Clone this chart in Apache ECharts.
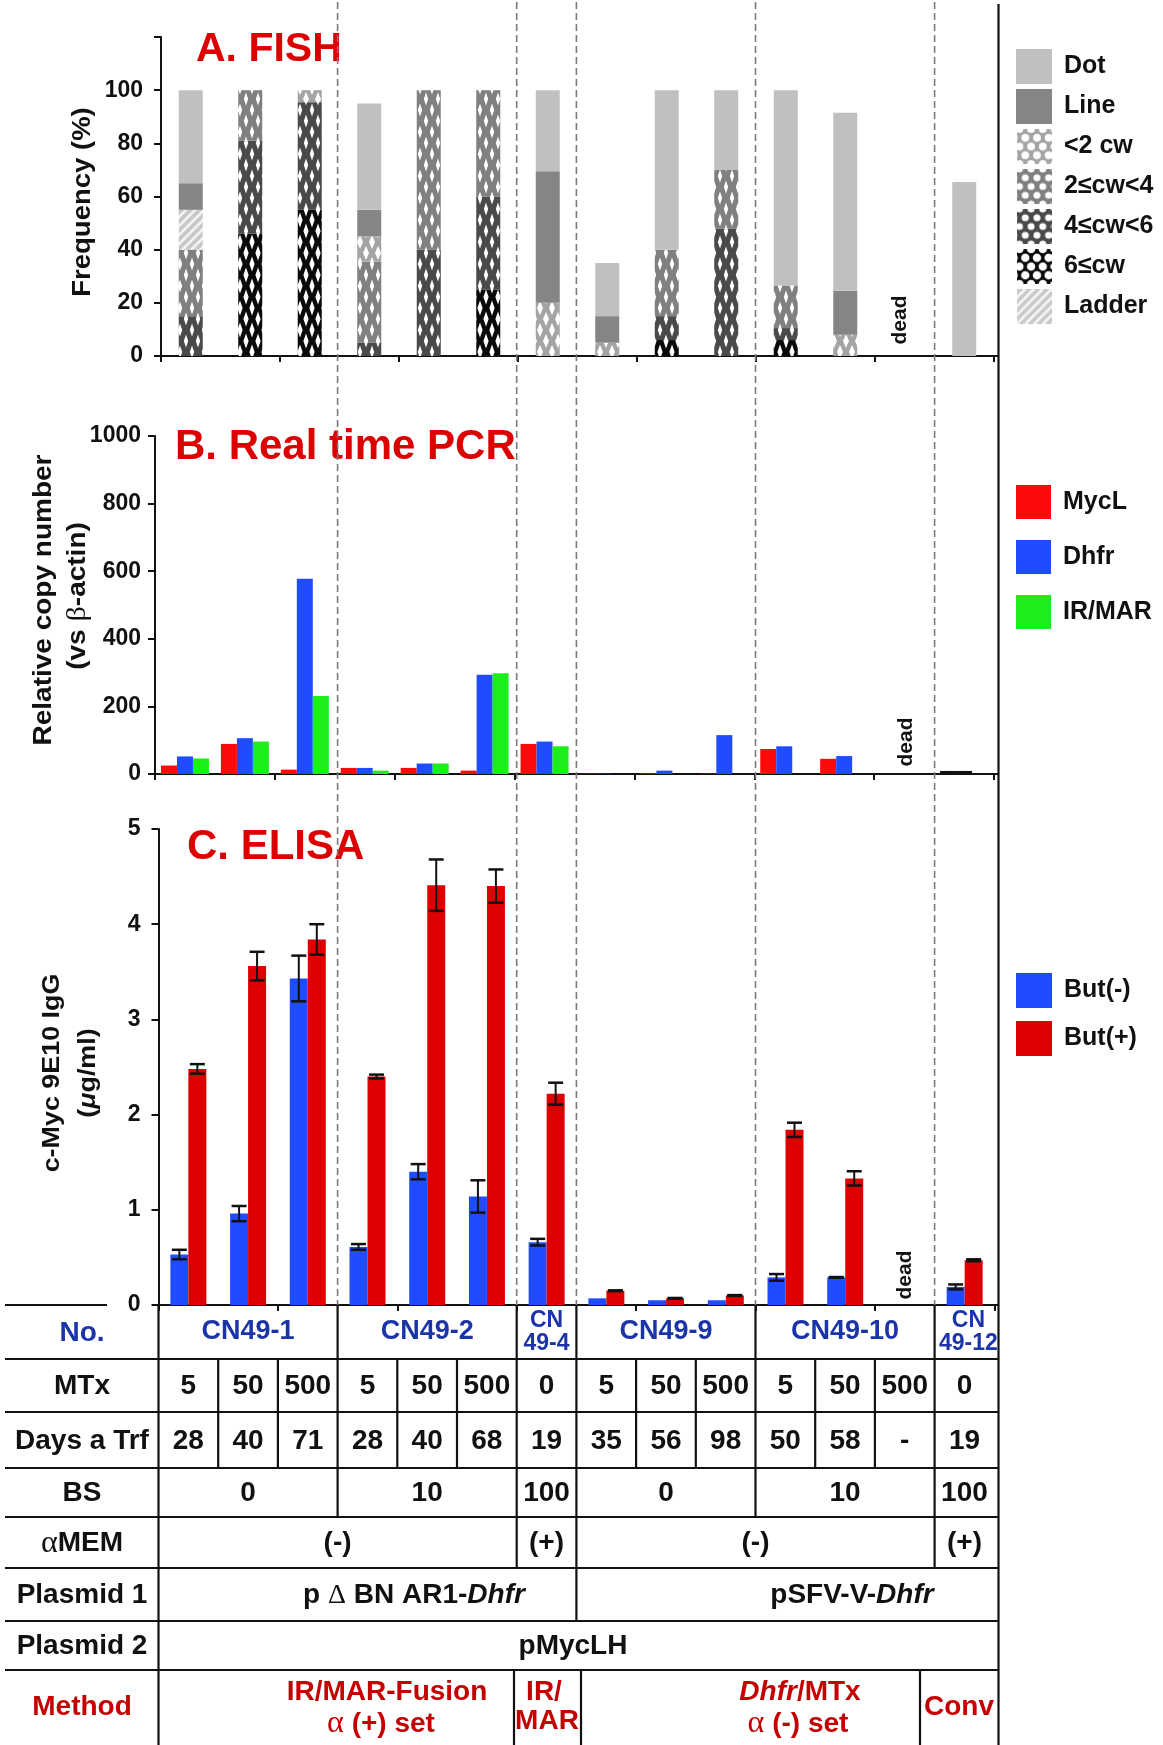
<!DOCTYPE html>
<html>
<head>
<meta charset="utf-8">
<script src="https://cdn.jsdelivr.net/npm/echarts@6/dist/echarts.min.js"></script>
<style>html,body{margin:0;padding:0;background:#fff}#chart{width:1163px;height:1745px}</style>
</head>
<body>
<div id="chart"></div>
<script>
// ---------------- DATA ----------------
const categories = ['CN49-1 5','CN49-1 50','CN49-1 500','CN49-2 5','CN49-2 50','CN49-2 500','CN49-4 0',
  'CN49-9 5','CN49-9 50','CN49-9 500','CN49-10 5','CN49-10 50','CN49-10 500','CN49-12 0'];

// A. FISH (segment heights %, stacked bottom -> top)
const fishCw6    = [0, 46, 55, 0, 0, 25, 0, 0, 6, 0, 6, 0, null, 0];
const fishCw4to6 = [15, 35, 40.5, 5, 40, 35, 0, 0, 9, 48, 4.5, 0, null, 0];
const fishCw2to4 = [25, 19, 0, 30.5, 60, 40, 0, 0, 25, 22, 16, 0, null, 0];
const fishCwLt2  = [0, 0, 4.5, 9.5, 0, 0, 20, 5, 0, 0, 0, 8, null, 0];
const fishLadder = [15, 0, 0, 0, 0, 0, 0, 0, 0, 0, 0, 0, null, 0];
const fishLine   = [10, 0, 0, 10, 0, 0, 49.5, 10, 0, 0, 0, 16.5, null, 0];
const fishDot    = [35, 0, 0, 40, 0, 0, 30.5, 20, 60, 30, 73.5, 67, null, 65.5];

// B. Real time PCR
const pcrMycL  = [25, 89, 13, 18, 18, 10, 89, 1, 2, 1, 74, 45, null, 9];
const pcrDhfr  = [52, 106, 578, 18, 31, 294, 96, 1, 10, 115, 82, 53, null, 9];
const pcrIrMar = [46, 96, 231, 10, 31, 298, 82, 0, 0, 0, 0, 0, null, 0];

// C. ELISA (value, error)
const butMinus    = [0.53, 0.96, 3.43, 0.61, 1.40, 1.14, 0.66, 0.07, 0.05, 0.05, 0.29, 0.29, null, 0.19];
const butMinusErr = [0.05, 0.08, 0.24, 0.03, 0.08, 0.17, 0.035, 0, 0, 0, 0.035, 0.004, null, 0.026];
const butPlus     = [2.48, 3.56, 3.84, 2.40, 4.41, 4.40, 2.22, 0.15, 0.07, 0.10, 1.84, 1.33, null, 0.47];
const butPlusErr  = [0.05, 0.15, 0.16, 0.02, 0.27, 0.175, 0.115, 0.004, 0.004, 0.004, 0.075, 0.075, null, 0.01];

// Tick / table labels
const fishTicks = [0, 20, 40, 60, 80, 100];
const noLabels = ['CN49-1', 'CN49-2', 'CN\n49-4', 'CN49-9', 'CN49-10', 'CN\n49-12'];
const noSpans  = [[0,3],[3,6],[6,7],[7,10],[10,13],[13,14]];
const mtxLabels  = ['5','50','500','5','50','500','0','5','50','500','5','50','500','0'];
const daysLabels = ['28','40','71','28','40','68','19','35','56','98','50','58','-','19'];
const bsLabels   = ['0','10','100','0','10','100'];
const memLabels  = ['(-)','(+)','(-)','(+)'];
const memSpans   = [[0,6],[6,7],[7,13],[13,14]];
const rowLabels  = ['No.','MTx','Days a Trf','BS','{a|\u03b1}MEM','Plasmid 1','Plasmid 2','Method'];
const deadIndex = 12;

// ---------------- STYLE HELPERS ----------------
const FONT = '"Liberation Sans", Arial, Helvetica, sans-serif';
const SERIF = '"Liberation Serif", "DejaVu Serif", serif';

function diamondPattern(base, dw, dh) {
  const c = document.createElement('canvas'); c.width = 12; c.height = 22;
  const g = c.getContext('2d');
  g.fillStyle = base; g.fillRect(0, 0, 12, 22);
  g.fillStyle = '#ffffff';
  const dia = (cx, cy) => { g.beginPath(); g.moveTo(cx, cy - dh); g.lineTo(cx + dw, cy); g.lineTo(cx, cy + dh); g.lineTo(cx - dw, cy); g.closePath(); g.fill(); };
  dia(6, 11); dia(0, 0); dia(12, 0); dia(0, 22); dia(12, 22);
  return { image: c, repeat: 'repeat' };
}
function circleIcon(base, r) {
  const c = document.createElement('canvas'); c.width = 36; c.height = 36;
  const g = c.getContext('2d');
  g.fillStyle = base; g.fillRect(0, 0, 36, 36);
  g.fillStyle = '#ffffff';
  for (let row = 0; row < 5; row++) for (let col = -1; col < 5; col++) {
    const cx = col * 12 + (row % 2 ? 6 : 0) + 3, cy = row * 9;
    g.beginPath(); g.arc(cx, cy, r, 0, Math.PI * 2); g.fill();
  }
  return 'image://' + c.toDataURL();
}
function stripePattern(base) {
  const c = document.createElement('canvas'); c.width = 9; c.height = 9;
  const g = c.getContext('2d');
  g.fillStyle = base; g.fillRect(0, 0, 9, 9);
  g.strokeStyle = '#f4f4f4'; g.lineWidth = 2.6;
  [[-9, 9, 9, -9], [0, 9, 9, 0], [0, 18, 18, 0]].forEach(l => { g.beginPath(); g.moveTo(l[0], l[1]); g.lineTo(l[2], l[3]); g.stroke(); });
  return { image: c, repeat: 'repeat' };
}
function stripeIcon(base) {
  const c = document.createElement('canvas'); c.width = 36; c.height = 36;
  const g = c.getContext('2d');
  g.fillStyle = base; g.fillRect(0, 0, 36, 36);
  g.strokeStyle = '#f4f4f4'; g.lineWidth = 3;
  for (let k = -36; k < 72; k += 9) { g.beginPath(); g.moveTo(k, 36); g.lineTo(k + 36, 0); g.stroke(); }
  return 'image://' + c.toDataURL();
}

const C_DOT = '#c0c0c0', C_LINE = '#858585';
const B_LT2 = '#a4a4a4', B_2TO4 = '#808080', B_4TO6 = '#4a4a4a', B_6 = '#0a0a0a', B_LAD = '#c8c8c8';
const pLt2 = diamondPattern(B_LT2, 3, 7), p2to4 = diamondPattern(B_2TO4, 2.2, 6.5),
      p4to6 = diamondPattern(B_4TO6, 2.2, 6.5), p6 = diamondPattern(B_6, 2.6, 7.5), pLad = stripePattern(B_LAD);

// ---------------- LAYOUT ----------------
const GA = { left: 161, top: 37, width: 833, height: 319 };
const GB = { left: 155, top: 436, width: 839, height: 338 };
const GC = { left: 158.5, top: 829, width: 836, height: 476 };
const T_L = 158.5, T_CW = 59.7, RIGHT = 998.5;
const colX = k => T_L + k * T_CW;
const catX = (grid, i) => grid.left + (i + 0.5) * grid.width / categories.length;

function xAxisFor(gi) {
  return { gridIndex: gi, type: 'category', data: categories,
    axisLine: { lineStyle: { color: '#111', width: 2 } },
    axisTick: { show: true, length: 6, lineStyle: { color: '#111', width: 2 } },
    axisLabel: { show: false }, splitLine: { show: false } };
}
function yAxisFor(gi, max, interval, margin, fmt) {
  return { gridIndex: gi, type: 'value', min: 0, max: max, interval: interval,
    axisLine: { show: true, lineStyle: { color: '#111', width: 2 } },
    axisTick: { show: true, length: 7, lineStyle: { color: '#111', width: 2 } },
    axisLabel: { margin: margin, color: '#111', fontSize: 23, fontWeight: 'bold', fontFamily: FONT,
      formatter: fmt || (v => String(v)) },
    splitLine: { show: false } };
}

function fishSeries(name, data, color) {
  return { name, type: 'bar', xAxisIndex: 0, yAxisIndex: 0, stack: 'fish', barWidth: 24,
    data: data, itemStyle: { color: color }, emphasis: { disabled: true } };
}

function errSeries(xIdx, vals, errs, offset) {
  const d = [];
  vals.forEach((v, i) => { if (v != null && errs[i] > 0) d.push([i, v - errs[i], v + errs[i]]); });
  return { type: 'custom', xAxisIndex: xIdx, yAxisIndex: xIdx, z: 5, silent: true,
    encode: { x: 0, y: [1, 2] }, data: d,
    renderItem: function (params, api) {
      const i = api.value(0), lo = api.value(1), hi = api.value(2);
      const pH = api.coord([i, hi]), pL = api.coord([i, lo]);
      const x = pH[0] + offset, hw = 7.5;
      return { type: 'group', children: [
        { type: 'line', shape: { x1: x, y1: pH[1], x2: x, y2: pL[1] }, style: { stroke: '#111', lineWidth: 2 } },
        { type: 'line', shape: { x1: x - hw, y1: pH[1], x2: x + hw, y2: pH[1] }, style: { stroke: '#111', lineWidth: 2.5 } },
        { type: 'line', shape: { x1: x - hw, y1: pL[1], x2: x + hw, y2: pL[1] }, style: { stroke: '#111', lineWidth: 2.5 } }
      ] };
    } };
}

// ---------------- GRAPHICS ----------------
const gfx = [];
function txt(x, y, text, o) {
  o = o || {};
  const st = { text: text, fill: o.color || '#111', fontSize: o.size || 28, fontWeight: o.weight || 'bold',
    fontFamily: FONT, fontStyle: 'normal', textAlign: o.align || 'center', align: o.align || 'center',
    textVerticalAlign: 'middle', verticalAlign: 'middle', lineHeight: o.lh || undefined, rich: o.rich || undefined };
  const el = { type: 'text', x: x, y: y, silent: true, z: 20, style: st };
  if (o.rot) el.rotation = o.rot;
  if (o.sx) el.scaleX = o.sx;
  gfx.push(el);
}
function line(x1, y1, x2, y2, o) {
  o = o || {};
  gfx.push({ type: 'line', silent: true, z: o.z || 20, shape: { x1, y1, x2, y2 },
    style: { stroke: o.color || '#111', lineWidth: o.w || 2, lineDash: o.dash || null } });
}
const RED_T = '#dc0000', BLUE_T = '#1b35a8', RED_M = '#c40000';

// titles
txt(196, 50, 'A. FISH', { color: RED_T, size: 41, align: 'left' });
txt(175, 447, 'B. Real time PCR', { color: RED_T, size: 42, align: 'left' });
txt(187, 847, 'C. ELISA', { color: RED_T, size: 42, align: 'left' });

// y-axis names
const ROT = Math.PI / 2;
txt(83, 202, 'Frequency (%)', { size: 25, rot: ROT, sx: 1.1 });
txt(44, 600, 'Relative copy number', { size: 25, rot: ROT, sx: 1.12 });
txt(78, 596, '(vs {b|\u03b2}-actin)', { size: 25, rot: ROT, sx: 1.12,
  rich: { b: { fontFamily: SERIF, fontSize: 27, fontWeight: 'normal', fill: '#111' } } });
txt(52, 1073, 'c-Myc 9E10 IgG', { size: 24, rot: ROT, sx: 1.12 });
txt(88, 1073, '({m|\u03bc}g/ml)', { size: 24, rot: ROT, sx: 1.12,
  rich: { m: { fontFamily: FONT, fontSize: 24, fontWeight: 'bold', fontStyle: 'italic', fill: '#111' } } });

// "dead" markers
txt(catX(GA, deadIndex) - 5, 320, 'dead', { size: 21, rot: ROT });
txt(catX(GB, deadIndex) + 2, 742, 'dead', { size: 21, rot: ROT });
txt(catX(GC, deadIndex), 1275, 'dead', { size: 21, rot: ROT });

// dashed group dividers and right border
[3, 6, 7, 10, 13].forEach(k => line(colX(k), 2, colX(k), 1305, { color: '#7a7a7a', w: 1.6, dash: [7, 4], z: 0 }));
line(RIGHT, 4, RIGHT, 1745, { w: 2.2 });
[GA.top + GA.height, GB.top + GB.height, GC.top + GC.height].forEach(y => line(990, y, RIGHT, y, { w: 2 }));

// ---------------- TABLE ----------------
const rowY = [1305, 1359, 1412, 1468, 1517, 1568, 1621, 1670, 1745];
line(5, rowY[0], 107, rowY[0]);
for (let r = 1; r <= 7; r++) line(5, rowY[r], RIGHT, rowY[r], { w: 2.2 });
line(T_L, rowY[0], T_L, 1745, { w: 2.2 });
const rowSeps = [[3,6,7,10,13], [1,2,3,4,5,6,7,8,9,10,11,12,13], [1,2,3,4,5,6,7,8,9,10,11,12,13],
  [3,6,7,10,13], [6,7,13], [7], []];
rowSeps.forEach((seps, r) => seps.forEach(k => line(colX(k), rowY[r], colX(k), rowY[r + 1], { w: 2.2 })));
const methodSeps = [514, 581, 920];
methodSeps.forEach(x => line(x, rowY[7], x, rowY[8], { w: 2.2 }));

const rowMid = r => (rowY[r] + rowY[r + 1]) / 2;
rowLabels.forEach((lab, r) => {
  const color = r === 0 ? BLUE_T : (r === 7 ? RED_M : '#111');
  const y = r === 7 ? 1707 : rowMid(r) + 1;
  txt(82, y, lab, { color: color, size: 28, rich: { a: { fontFamily: SERIF, fontSize: 32, fontWeight: 'normal', fill: '#111' } } });
});
noLabels.forEach((lab, j) => {
  const s = noSpans[j], x = (colX(s[0]) + colX(s[1])) / 2;
  const two = lab.indexOf('\n') >= 0;
  txt(x + (j === 5 ? 4 : 0), rowMid(0), lab, { color: BLUE_T, size: two ? 23 : 27, lh: 23 });
});
mtxLabels.forEach((lab, i) => txt((colX(i) + colX(i + 1)) / 2, rowMid(1) + 1, lab));
daysLabels.forEach((lab, i) => txt((colX(i) + colX(i + 1)) / 2, rowMid(2) + 1, lab));
bsLabels.forEach((lab, j) => { const s = noSpans[j]; txt((colX(s[0]) + colX(s[1])) / 2, rowMid(3) + 1, lab); });
memLabels.forEach((lab, j) => { const s = memSpans[j]; txt((colX(s[0]) + colX(s[1])) / 2, rowMid(4) + 1, lab); });
const itRich = { i: { fontFamily: FONT, fontSize: 28, fontWeight: 'bold', fontStyle: 'italic', fill: '#111' },
                 d: { fontFamily: SERIF, fontSize: 28, fontWeight: 'normal', fill: '#111' } };
txt(414, rowMid(5) + 1, 'p {d|\u0394} BN AR1-{i|Dhfr}', { rich: itRich });
txt(852, rowMid(5) + 1, 'pSFV-V-{i|Dhfr}', { rich: itRich });
txt(573, rowMid(6) + 1, 'pMycLH');
const redRich = { i: { fontFamily: FONT, fontSize: 28, fontWeight: 'bold', fontStyle: 'italic', fill: RED_M },
                  a: { fontFamily: SERIF, fontSize: 32, fontWeight: 'normal', fill: RED_M } };
txt(387, 1692, 'IR/MAR-Fusion', { color: RED_M });
txt(381, 1724, '{a|\u03b1} (+) set', { color: RED_M, rich: redRich });
txt(544, 1692, 'IR/', { color: RED_M });
txt(547, 1721, 'MAR', { color: RED_M });
txt(800, 1692, '{i|Dhfr}/MTx', { color: RED_M, rich: redRich });
txt(798, 1724, '{a|\u03b1} (-) set', { color: RED_M, rich: redRich });
txt(959, 1707, 'Conv', { color: RED_M, size: 28 });

// ---------------- CHART ----------------
const chart = echarts.init(document.getElementById('chart'), null, { renderer: 'canvas', devicePixelRatio: 1 });
const legendText = { color: '#111', fontSize: 25, fontWeight: 'bold', fontFamily: FONT, padding: [0, 0, 0, 7] };
chart.setOption({
  animation: false,
  backgroundColor: '#ffffff',
  grid: [GA, GB, GC].map(g => Object.assign({ containLabel: false }, g)),
  xAxis: [xAxisFor(0), xAxisFor(1), xAxisFor(2)],
  yAxis: [
    yAxisFor(0, 120, 20, 18, v => (fishTicks.indexOf(v) >= 0 ? String(v) : '')),
    yAxisFor(1, 1000, 200, 14),
    yAxisFor(2, 5, 1, 18)
  ],
  legend: [
    { orient: 'vertical', left: 1016, top: 49, padding: 0, itemWidth: 36, itemHeight: 35, itemGap: 5,
      selectedMode: false, textStyle: legendText,
      data: [
        { name: 'Dot', icon: 'rect' }, { name: 'Line', icon: 'rect' },
        { name: '<2 cw', icon: circleIcon(B_LT2, 4) }, { name: '2\u2264cw<4', icon: circleIcon(B_2TO4, 3.6) },
        { name: '4\u2264cw<6', icon: circleIcon(B_4TO6, 3.6) }, { name: '6\u2264cw', icon: circleIcon(B_6, 4.3) },
        { name: 'Ladder', icon: stripeIcon(B_LAD) }
      ] },
    { orient: 'vertical', left: 1016, top: 485, padding: 0, itemWidth: 35, itemHeight: 34, itemGap: 21,
      selectedMode: false, textStyle: legendText, icon: 'rect', data: ['MycL', 'Dhfr', 'IR/MAR'] },
    { orient: 'vertical', left: 1016, top: 973, padding: 0, itemWidth: 36, itemHeight: 35, itemGap: 13,
      selectedMode: false, textStyle: legendText, icon: 'rect', data: ['But(-)', 'But(+)'] }
  ],
  series: [
    fishSeries('6\u2264cw', fishCw6, p6),
    fishSeries('4\u2264cw<6', fishCw4to6, p4to6),
    fishSeries('2\u2264cw<4', fishCw2to4, p2to4),
    fishSeries('<2 cw', fishCwLt2, pLt2),
    fishSeries('Ladder', fishLadder, pLad),
    fishSeries('Line', fishLine, C_LINE),
    fishSeries('Dot', fishDot, C_DOT),
    { name: 'MycL', type: 'bar', xAxisIndex: 1, yAxisIndex: 1, barWidth: 16, barGap: '0%',
      itemStyle: { color: '#ff0a0a' },
      data: pcrMycL.map((v, i) => i === 13 ? { value: v, itemStyle: { color: '#111' } } : v) },
    { name: 'Dhfr', type: 'bar', xAxisIndex: 1, yAxisIndex: 1, barWidth: 16, barGap: '0%',
      itemStyle: { color: '#1f4cff' },
      data: pcrDhfr.map((v, i) => i === 13 ? { value: v, itemStyle: { color: '#111' } } : v) },
    { name: 'IR/MAR', type: 'bar', xAxisIndex: 1, yAxisIndex: 1, barWidth: 16, barGap: '0%',
      itemStyle: { color: '#1cee1c' }, data: pcrIrMar },
    { name: 'But(-)', type: 'bar', xAxisIndex: 2, yAxisIndex: 2, barWidth: 18, barGap: '0%',
      itemStyle: { color: '#1f4cff' }, data: butMinus },
    { name: 'But(+)', type: 'bar', xAxisIndex: 2, yAxisIndex: 2, barWidth: 18, barGap: '0%',
      itemStyle: { color: '#de0000' }, data: butPlus },
    errSeries(2, butMinus, butMinusErr, -9),
    errSeries(2, butPlus, butPlusErr, 9)
  ],
  graphic: { elements: gfx }
});
</script>
</body>
</html>
